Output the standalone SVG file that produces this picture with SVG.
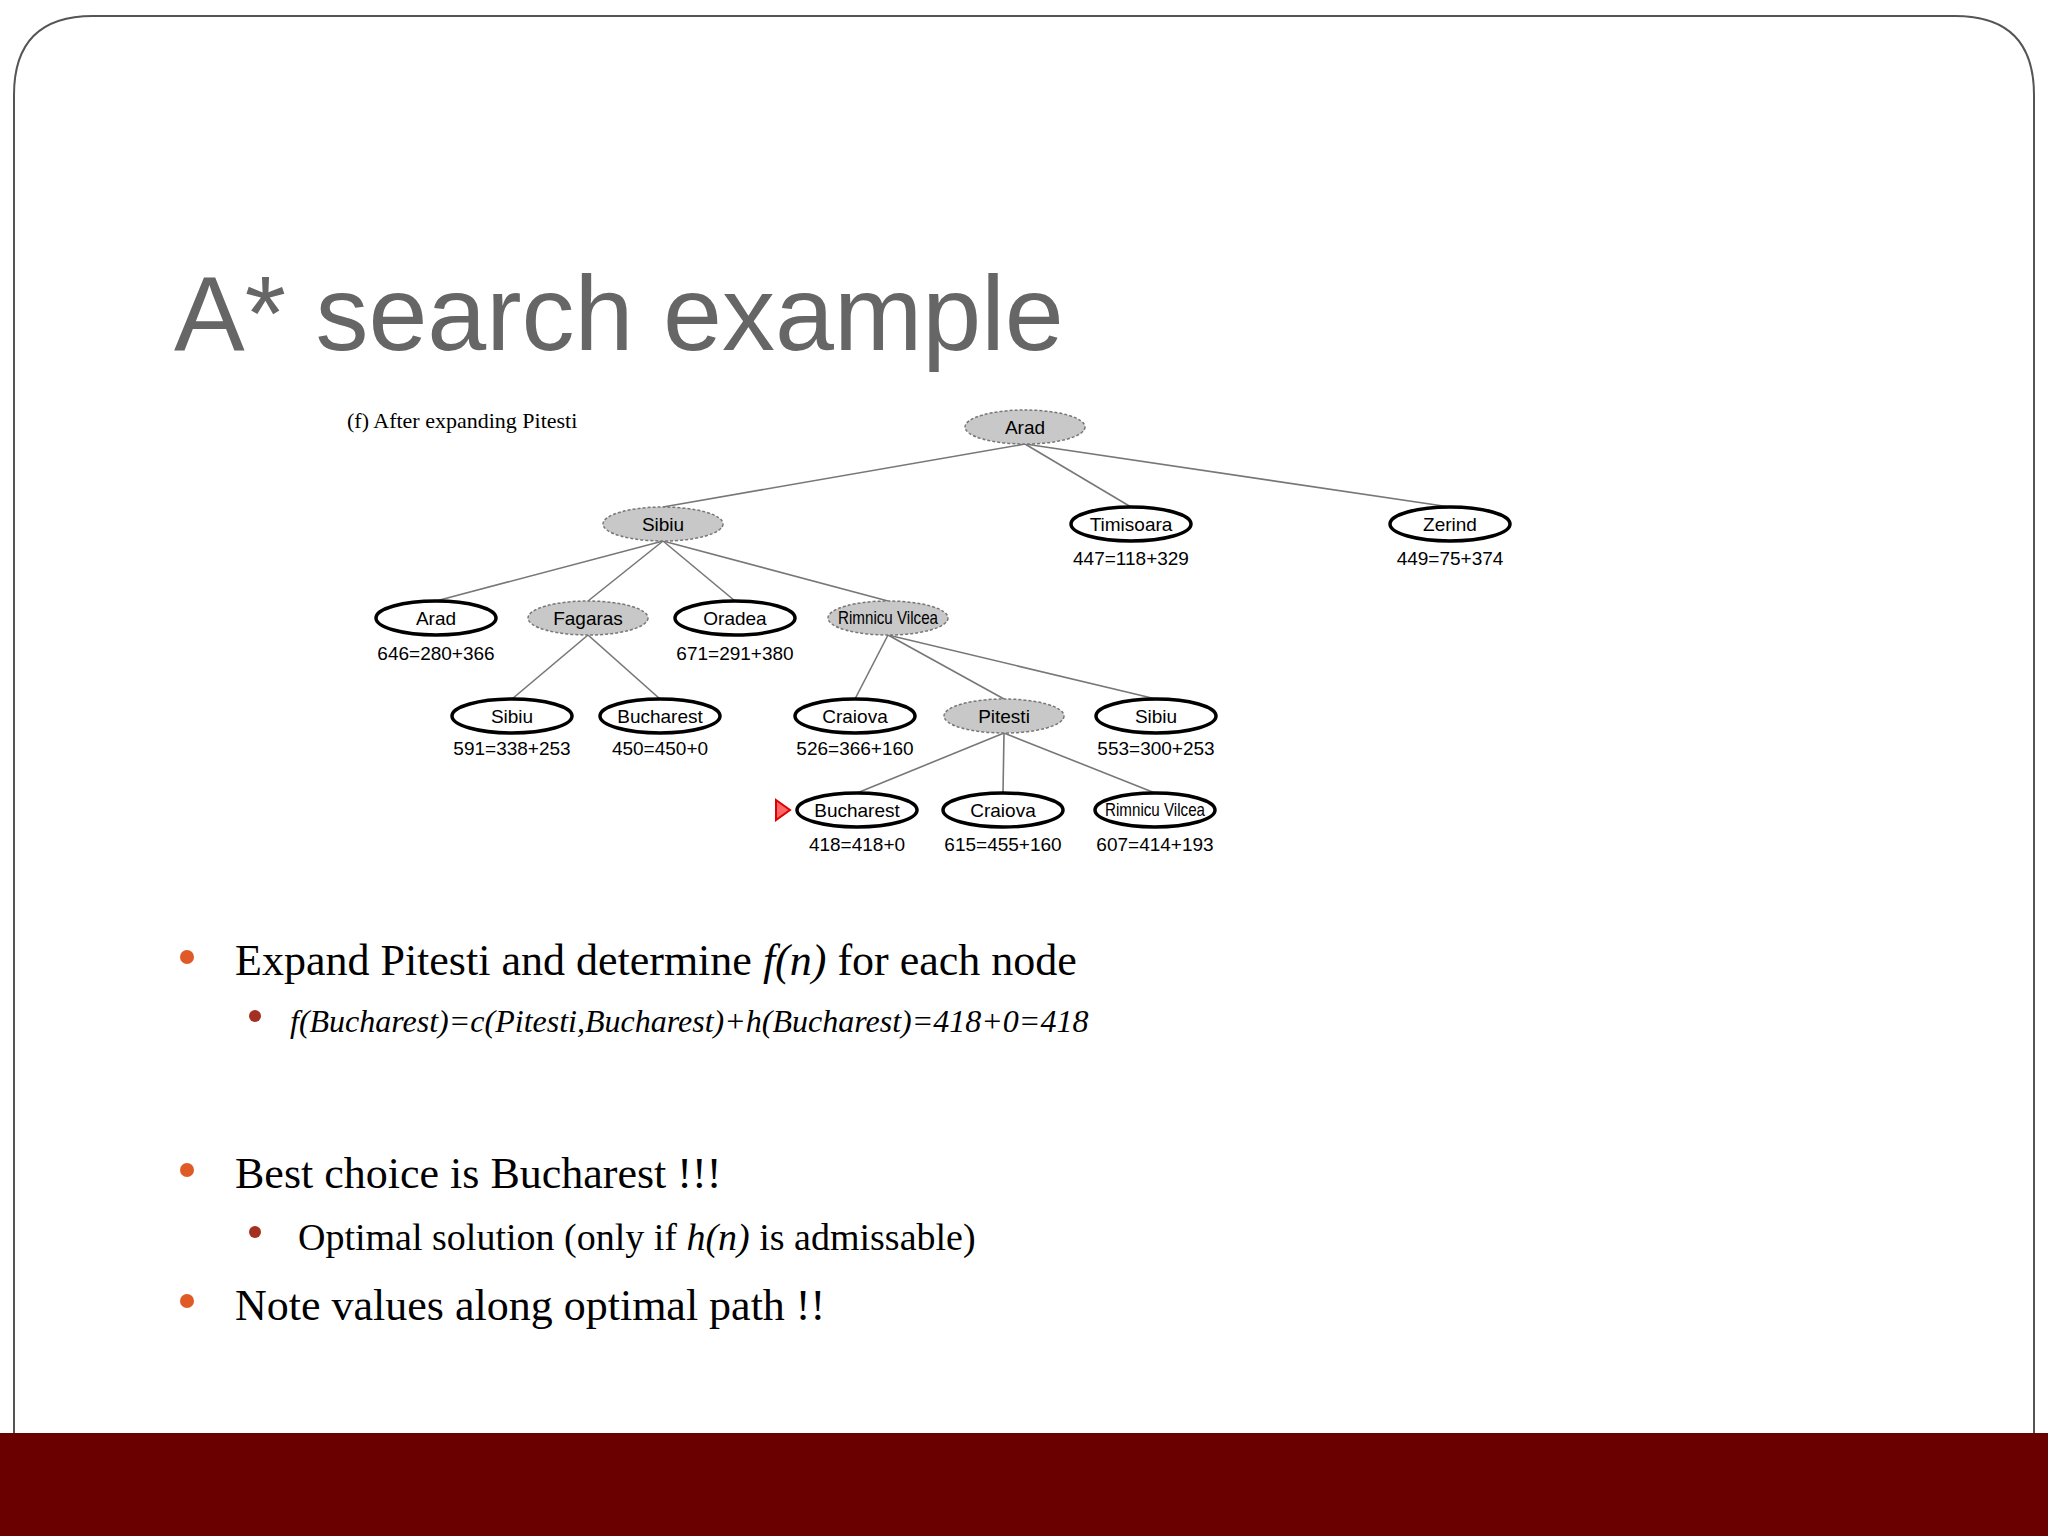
<svg xmlns="http://www.w3.org/2000/svg" width="2048" height="1536" viewBox="0 0 2048 1536">
<style>
.n ellipse{stroke:#000;stroke-width:3.5;fill:#fff}
.n.g ellipse{fill:#c8c8c8;stroke:#777;stroke-width:1.5;stroke-dasharray:3 2}
.n text,.v{font-family:"Liberation Sans",Arial,sans-serif;font-size:19px;text-anchor:middle;fill:#000}
.e line{stroke:#777;stroke-width:1.6}
.b{font-family:"Liberation Serif","Times New Roman",serif;fill:#000}
</style>
<rect width="2048" height="1536" fill="#fff"/>
<path d="M14 1433 V95 Q14 16 93 16 H1955 Q2034 16 2034 95 V1433" fill="none" stroke="#555" stroke-width="2"/>
<rect x="0" y="1433" width="2048" height="103" fill="#6b0000"/>
<text x="174" y="350" font-family="'Liberation Sans',Arial,sans-serif" font-size="106" fill="#666">A* search example</text>
<text x="347" y="428" font-family="'Liberation Serif',serif" font-size="22" fill="#000">(f) After expanding Pitesti</text>
<g class="e">
<line x1="1025" y1="444" x2="663" y2="507"/><line x1="1025" y1="444" x2="1131" y2="507"/><line x1="1025" y1="444" x2="1450" y2="507"/>
<line x1="663" y1="541" x2="436" y2="601"/><line x1="663" y1="541" x2="588" y2="601"/><line x1="663" y1="541" x2="735" y2="601"/><line x1="663" y1="541" x2="888" y2="601"/>
<line x1="588" y1="635" x2="512" y2="699"/><line x1="588" y1="635" x2="660" y2="699"/>
<line x1="888" y1="635" x2="855" y2="699"/><line x1="888" y1="635" x2="1004" y2="699"/><line x1="888" y1="635" x2="1156" y2="699"/>
<line x1="1004" y1="733" x2="857" y2="793"/><line x1="1004" y1="733" x2="1003" y2="793"/><line x1="1004" y1="733" x2="1155" y2="793"/>
</g>
<g id="n1" class="n g"><ellipse cx="1025" cy="427" rx="60" ry="17"/><text x="1025" y="434">Arad</text></g>
<g id="n2" class="n g"><ellipse cx="663" cy="524" rx="60" ry="17"/><text x="663" y="531">Sibiu</text></g>
<g id="n3" class="n"><ellipse cx="1131" cy="524" rx="60" ry="17"/><text x="1131" y="531">Timisoara</text><text x="1131" y="565">447=118+329</text></g>
<g id="n4" class="n"><ellipse cx="1450" cy="524" rx="60" ry="17"/><text x="1450" y="531">Zerind</text><text x="1450" y="565">449=75+374</text></g>
<g id="n5" class="n"><ellipse cx="436" cy="618" rx="60" ry="17"/><text x="436" y="625">Arad</text><text x="436" y="660">646=280+366</text></g>
<g id="n6" class="n g"><ellipse cx="588" cy="618" rx="60" ry="17"/><text x="588" y="625">Fagaras</text></g>
<g id="n7" class="n"><ellipse cx="735" cy="618" rx="60" ry="17"/><text x="735" y="625">Oradea</text><text x="735" y="660">671=291+380</text></g>
<g id="n8" class="n g"><ellipse cx="888" cy="618" rx="60" ry="17"/><text x="888" y="624" font-size="16" textLength="100" lengthAdjust="spacingAndGlyphs">Rimnicu Vilcea</text></g>
<g id="n9" class="n"><ellipse cx="512" cy="716" rx="60" ry="17"/><text x="512" y="723">Sibiu</text><text x="512" y="755">591=338+253</text></g>
<g id="n10" class="n"><ellipse cx="660" cy="716" rx="60" ry="17"/><text x="660" y="723">Bucharest</text><text x="660" y="755">450=450+0</text></g>
<g id="n11" class="n"><ellipse cx="855" cy="716" rx="60" ry="17"/><text x="855" y="723">Craiova</text><text x="855" y="755">526=366+160</text></g>
<g id="n12" class="n g"><ellipse cx="1004" cy="716" rx="60" ry="17"/><text x="1004" y="723">Pitesti</text></g>
<g id="n13" class="n"><ellipse cx="1156" cy="716" rx="60" ry="17"/><text x="1156" y="723">Sibiu</text><text x="1156" y="755">553=300+253</text></g>
<g id="n14" class="n"><path d="M776 800 L790 810 L776 820 Z" fill="#f66" stroke="#d00" stroke-width="2"/><ellipse cx="857" cy="810" rx="60" ry="17"/><text x="857" y="817">Bucharest</text><text x="857" y="851">418=418+0</text></g>
<g id="n15" class="n"><ellipse cx="1003" cy="810" rx="60" ry="17"/><text x="1003" y="817">Craiova</text><text x="1003" y="851">615=455+160</text></g>
<g id="n16" class="n"><ellipse cx="1155" cy="810" rx="60" ry="17"/><text x="1155" y="816" font-size="16" textLength="100" lengthAdjust="spacingAndGlyphs">Rimnicu Vilcea</text><text x="1155" y="851">607=414+193</text></g>
<g fill="#e05a28"><circle cx="187" cy="957" r="7"/><circle cx="187" cy="1170" r="7"/><circle cx="187" cy="1301" r="7"/></g>
<g fill="#a33020"><circle cx="255" cy="1016" r="6"/><circle cx="255" cy="1232" r="6"/></g>
<text class="b" x="235" y="975" font-size="44">Expand Pitesti and determine <tspan font-style="italic">f(n)</tspan> for each node</text>
<text class="b" x="290" y="1032" font-size="32" font-style="italic">f(Bucharest)=c(Pitesti,Bucharest)+h(Bucharest)=418+0=418</text>
<text class="b" x="235" y="1188" font-size="44">Best choice is Bucharest !!!</text>
<text class="b" x="298" y="1250" font-size="38">Optimal solution (only if <tspan font-style="italic">h(n)</tspan> is admissable)</text>
<text class="b" x="235" y="1320" font-size="44">Note values along optimal path !!</text>
</svg>
